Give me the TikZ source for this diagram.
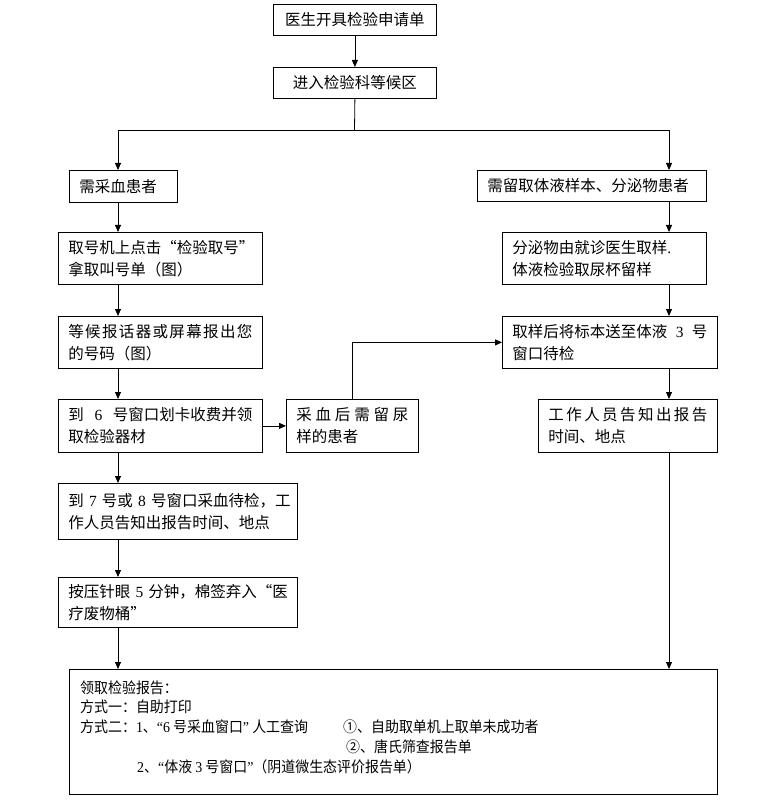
\documentclass[tikz,border=0pt]{standalone}
\usepackage{fontspec}
\setmainfont{Noto Sans CJK SC}
\newfontfamily\latin{Liberation Serif}
\newfontfamily\cjkc[FakeStretch=0.93]{Noto Sans CJK SC}
\newfontfamily\latinc[FakeStretch=0.93]{Liberation Serif}
\usetikzlibrary{arrows.meta}
\newcommand\nm[1]{{\latin #1}}
\newcommand\nmc[1]{{\latinc #1}}
\newcommand\mkbox[6]{%
  \pgfmathsetmacro\mktw{#4-#2-20}%
  \node[flowbox, text width=\mktw pt, align=left,
        minimum width={(#4-#2)*1pt}, minimum height={(#5-#3)*1pt}] (#1) at (#2,#3) {#6};}
\begin{document}
\begin{tikzpicture}[x=1pt,y=-1pt,
  flowbox/.style={draw, line width=0.8pt, inner xsep=10pt, inner ysep=0pt,
    anchor=north west, font=\fontsize{15.5}{22}\selectfont},
  arr/.style={line width=0.8pt, -{Triangle[width=6pt,length=7pt]}},
  plain/.style={line width=0.8pt},
  bt/.style={anchor=west, inner sep=0pt, font=\cjkc\fontsize{15}{18}\selectfont}]
\useasboundingbox (0,0) rectangle (760,810);

% top boxes
\node[flowbox, minimum width=163pt, minimum height=31pt, align=center] (b1) at (273,4) {医生开具检验申请单};
\node[flowbox, minimum width=163pt, minimum height=31pt, align=center] (b2) at (273,67) {进入检验科等候区};

% left column
\mkbox{b3}{69}{170}{177}{202}{需采血患者}
\mkbox{b4}{58}{232}{262}{284}{取号机上点击“检验取号”\\拿取叫号单（图）}
\mkbox{b5}{58}{316}{262}{368}{\makebox[\linewidth][s]{等\hfil 候\hfil 报\hfil 话\hfil 器\hfil 或\hfil 屏\hfil 幕\hfil 报\hfil 出\hfil 您}\\的号码（图）}
\mkbox{b6}{58}{399}{262}{452}{\makebox[\linewidth][s]{到\hfil\nm{6}\hfil 号窗口划卡收费并领}\\取检验器材}
\mkbox{b7}{286}{399}{418}{452}{\makebox[\linewidth][s]{采\hfil 血\hfil 后\hfil 需\hfil 留\hfil 尿}\\样的患者}
\mkbox{b8}{58}{483}{297}{539}{\makebox[\linewidth][s]{到~\nm{7}~号或~\nm{8}~号窗口采血待检，工}\\作人员告知出报告时间、地点}
\mkbox{b9}{58}{577}{297}{627}{\makebox[\linewidth][s]{按压针眼~\nm{5}~分钟，棉签弃入“医}\\疗废物桶”}

% right column
\mkbox{r1}{477}{170}{706}{201}{需留取体液样本、分泌物患者}
\mkbox{r2}{502}{232}{706}{284}{分泌物由就诊医生取样\nm{.}\\体液检验取尿杯留样}
\mkbox{r3}{502}{316}{717}{368}{\makebox[\linewidth][s]{取样后将标本送至体液\hfil\nm{3}\hfil 号}\\窗口待检}
\mkbox{r4}{538}{399}{717}{452}{\makebox[\linewidth][s]{工\hfil 作\hfil 人\hfil 员\hfil 告\hfil 知\hfil 出\hfil 报\hfil 告}\\时间、地点}

% bottom box
\node[draw, line width=0.8pt, anchor=north west, inner sep=0pt,
      minimum width=648pt, minimum height=125pt] (bot) at (69,669) {};
\node[bt] (t1) at (80,688) {领取检验报告：};
\node[bt] (t2) at (80,707) {方式一：自助打印};
\node[bt] (t3) at (80,727) {方式二：\nmc{1}、\nmc{“6}~号采血窗口\nmc{”}~人工查询};
\node[bt] (t4) at (343,727) {①、自助取单机上取单未成功者};
\node[bt] (t5) at (346,747) {②、唐氏筛查报告单};
\node[bt] (t6) at (137,767) {\nmc{2}、\nmc{“}体液~\nmc{3}~号窗口\nmc{”}（阴道微生态评价报告单）};

% helper coordinates
\coordinate (lx) at (118,0);
\coordinate (rx) at (669,0);
\coordinate (mx) at (352,0);
\coordinate (sp) at (354.5,130);

% connectors
\draw[arr] (b1) -- (b2);
\draw[plain] (b2.south) -- (sp);
\draw[arr] (sp) -| (lx |- b3.north);
\draw[arr] (sp) -| (rx |- r1.north);
\draw[arr] (lx |- b3.south) -- (lx |- b4.north);
\draw[arr] (lx |- b4.south) -- (lx |- b5.north);
\draw[arr] (lx |- b5.south) -- (lx |- b6.north);
\draw[arr] (lx |- b6.south) -- (lx |- b8.north);
\draw[arr] (lx |- b8.south) -- (lx |- b9.north);
\draw[arr] (lx |- b9.south) -- (lx |- bot.north);
\draw[arr] (b6.east) -- (b7.west);
\draw[arr] (mx |- b7.north) |- (r3.west);
\draw[arr] (rx |- r1.south) -- (rx |- r2.north);
\draw[arr] (rx |- r2.south) -- (rx |- r3.north);
\draw[arr] (rx |- r3.south) -- (rx |- r4.north);
\draw[arr] (rx |- r4.south) -- (rx |- bot.north);
\end{tikzpicture}
\end{document}
